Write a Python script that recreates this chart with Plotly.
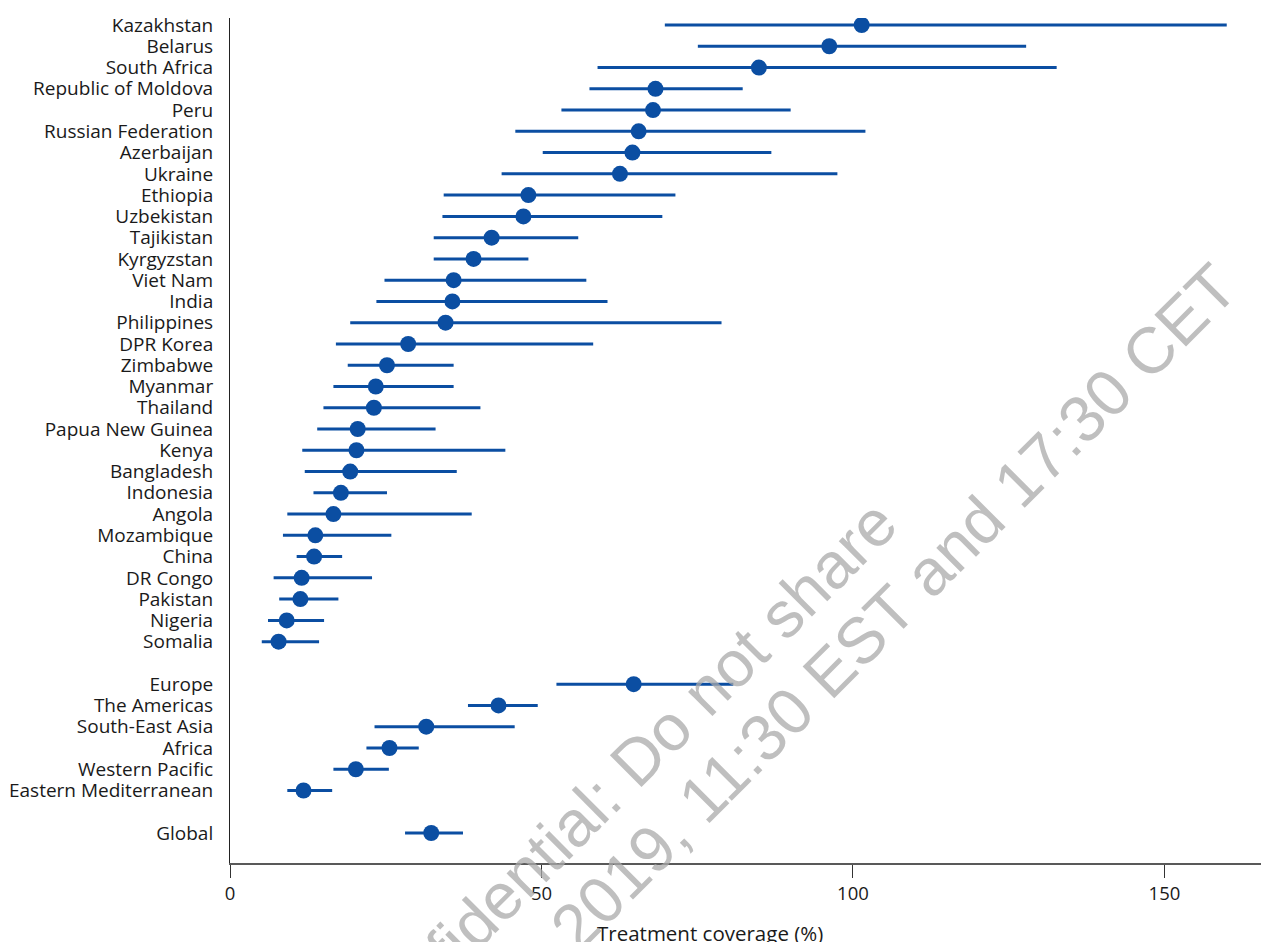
import plotly.graph_objects as go

countries = ["Kazakhstan", "Belarus", "South Africa", "Republic of Moldova", "Peru",
             "Russian Federation", "Azerbaijan", "Ukraine", "Ethiopia", "Uzbekistan",
             "Tajikistan", "Kyrgyzstan", "Viet Nam", "India", "Philippines", "DPR Korea",
             "Zimbabwe", "Myanmar", "Thailand", "Papua New Guinea", "Kenya", "Bangladesh",
             "Indonesia", "Angola", "Mozambique", "China", "DR Congo", "Pakistan",
             "Nigeria", "Somalia"]
country_best = [101.4, 96.2, 84.9, 68.3, 67.9, 65.6, 64.6, 62.6, 47.9, 47.1,
                42.0, 39.1, 35.9, 35.7, 34.6, 28.6, 25.2, 23.4, 23.1, 20.5,
                20.3, 19.3, 17.8, 16.6, 13.7, 13.5, 11.5, 11.3, 9.1, 7.8]
country_low = [69.8, 75.1, 59.0, 57.7, 53.2, 45.8, 50.2, 43.6, 34.3, 34.1,
               32.7, 32.7, 24.8, 23.5, 19.3, 17.0, 18.9, 16.6, 15.0, 14.0,
               11.6, 12.0, 13.4, 9.2, 8.5, 10.7, 7.0, 7.9, 6.1, 5.1]
country_high = [160.0, 127.8, 132.7, 82.3, 90.0, 102.0, 86.9, 97.5, 71.5, 69.4,
                55.9, 47.9, 57.2, 60.6, 78.9, 58.3, 35.9, 35.9, 40.2, 33.0,
                44.2, 36.4, 25.2, 38.8, 25.9, 18.0, 22.8, 17.4, 15.1, 14.3]

regions = ["Europe", "The Americas", "South-East Asia", "Africa", "Western Pacific",
           "Eastern Mediterranean"]
region_best = [64.8, 43.1, 31.5, 25.6, 20.2, 11.8]
region_low = [52.4, 38.2, 23.2, 21.9, 16.6, 9.2]
region_high = [80.8, 49.4, 45.7, 30.3, 25.5, 16.4]

global_label = ["Global"]
global_best = [32.3]
global_low = [28.1]
global_high = [37.4]

x_ticks = [0, 50, 100, 150]
x_title = "Treatment coverage (%)"
watermark_1 = "Confidential: Do not share"
watermark_2 = "2019, 11:30 EST and 17:30 CET"

labels = countries + regions + global_label
best = country_best + region_best + global_best
low = country_low + region_low + global_low
high = country_high + region_high + global_high
# row positions: countries 0..29, gap, regions 31..36, gap, global 38
ypos = list(range(len(countries))) + [len(countries) + 1 + i for i in range(len(regions))] \
    + [len(countries) + len(regions) + 2]

BLUE = "#0b4ea2"
FONT = "Open Sans"
TXT = "#1a1a1a"

fig = go.Figure()
fig.add_trace(go.Scatter(
    x=best, y=ypos, mode="markers",
    marker=dict(size=16, color=BLUE),
    error_x=dict(type="data", symmetric=False,
                 array=[h - b for h, b in zip(high, best)],
                 arrayminus=[b - l for b, l in zip(best, low)],
                 thickness=3, width=0, color=BLUE),
    showlegend=False, hoverinfo="skip",
))

fig.update_layout(
    width=1261, height=942,
    margin=dict(l=230, r=0, t=18, b=79),
    paper_bgcolor="white", plot_bgcolor="white",
    font=dict(family=FONT, color=TXT),
    xaxis=dict(range=[0, 165.5], tickvals=x_ticks, ticktext=[str(t) for t in x_ticks],
               showgrid=False, zeroline=False, showline=True, linecolor="#595959",
               linewidth=2, ticks="outside", ticklen=13, tickcolor="#333333",
               tickwidth=1, tickfont=dict(size=18.5, family=FONT, color=TXT)),
    yaxis=dict(range=[39.41, -0.33], tickvals=ypos, ticktext=labels,
               showgrid=False, zeroline=False, showline=True, linecolor="#222222",
               linewidth=1, ticks="", ticklabelstandoff=12,
               tickfont=dict(size=19, family=FONT, color=TXT)),
)

fig.add_annotation(text=x_title, xref="paper", yref="paper", x=(710 - 230) / 1031, y=0,
                   yshift=-70, showarrow=False, xanchor="center", yanchor="middle",
                   font=dict(size=20.5, family=FONT, color=TXT))

# watermark (partly runs off the page, as in the original)
wm_font = dict(size=65, family="Liberation Sans", color="rgba(170,170,170,0.75)")
fig.add_annotation(text=watermark_1, xref="paper", yref="paper",
                   x=(619 - 230) / 1031, y=(863 - 777) / 845,
                   showarrow=False, textangle=-45, xanchor="center", yanchor="middle",
                   font=wm_font)
fig.add_annotation(text=watermark_2, xref="paper", yref="paper",
                   x=(893 - 230) / 1031, y=(863 - 607) / 845,
                   showarrow=False, textangle=-45, xanchor="center", yanchor="middle",
                   font=wm_font)

fig.write_html("out.html", config={"displayModeBar": False},
               post_script="document.body.style.margin='0';")
